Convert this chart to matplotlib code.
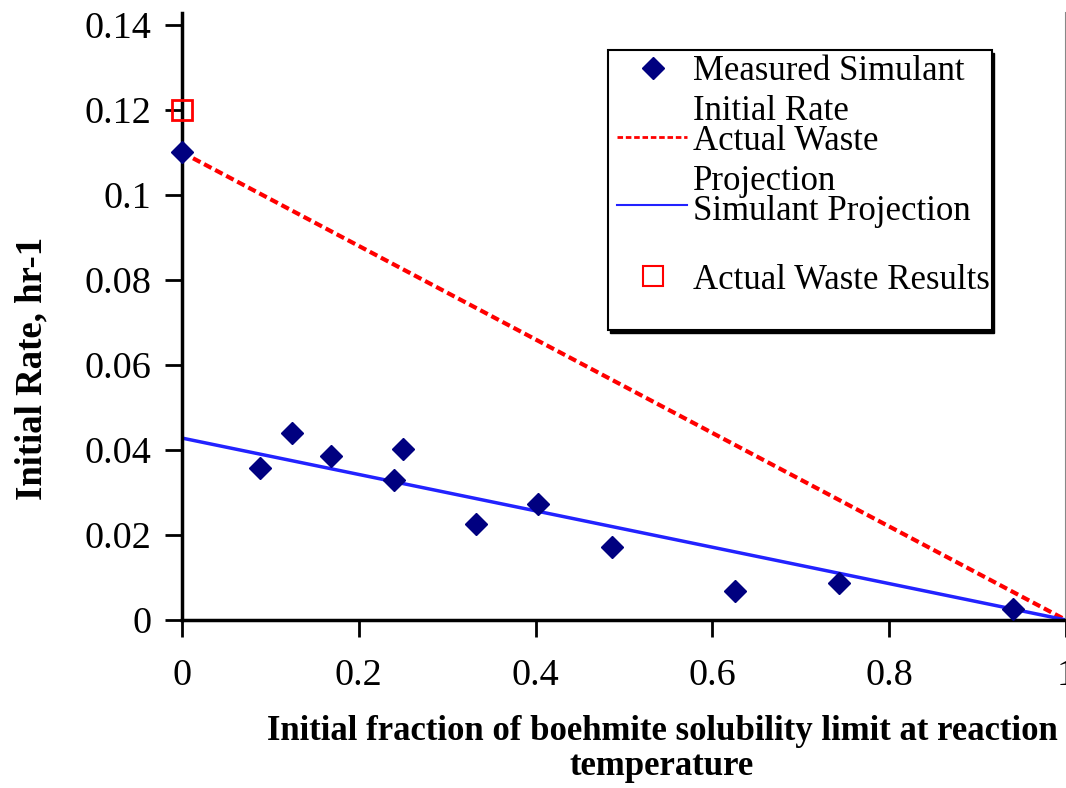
import matplotlib
matplotlib.use("Agg")
import matplotlib.pyplot as plt
from matplotlib.lines import Line2D
from matplotlib.patches import Rectangle

plt.rcParams['font.family'] = ['Liberation Serif', 'DejaVu Serif']

# measured simulant data
sim_x = [0.0, 0.088, 0.124, 0.169, 0.240, 0.250, 0.333, 0.403, 0.486, 0.626, 0.743, 0.940]
sim_y = [0.110, 0.0358, 0.0440, 0.0386, 0.0329, 0.0402, 0.0226, 0.0273, 0.0172, 0.0068, 0.0087, 0.0026]

# actual waste result
waste_x = [0.0]
waste_y = [0.12]

# projections
proj_x = [0.0, 1.0]
waste_proj_y = [0.110, 0.0]
sim_proj_y = [0.0428, 0.0]

xticks = [0, 0.2, 0.4, 0.6, 0.8, 1]
xtick_labels = ['0', '0.2', '0.4', '0.6', '0.8', '1']
yticks = [0, 0.02, 0.04, 0.06, 0.08, 0.1, 0.12, 0.14]
ytick_labels = ['0', '0.02', '0.04', '0.06', '0.08', '0.1', '0.12', '0.14']

W, H = 1066, 788
fig = plt.figure(figsize=(W / 100, H / 100), dpi=100)
ax = fig.add_axes([182 / W, 1 - 620 / H, 1 - 182 / W, (620 - 13) / H])

ax.plot(proj_x, waste_proj_y, color='#ff0000', lw=3, ls=(0, (2, 1)), zorder=2)
ax.plot(proj_x, sim_proj_y, color='#2222ff', lw=2.5, zorder=2)
ax.plot(sim_x, sim_y, 'D', color='#000080', ms=11.5, ls='none', zorder=3, clip_on=False)
ax.plot(waste_x, waste_y, 's', mfc='none', mec='#ff0000', mew=2, ms=14, ls='none',
        zorder=3, clip_on=False)

ax.set_xlim(0, 1)
ax.set_ylim(0, 0.1428)
ax.set_xticks(xticks)
ax.set_xticklabels(xtick_labels)
ax.set_yticks(yticks)
ax.set_yticklabels(ytick_labels)
ax.tick_params(direction='out', length=12, width=2, labelsize=27.5, colors='black')
ax.tick_params(axis='x', pad=16)
ax.tick_params(axis='y', pad=10)

ax.spines['top'].set_visible(False)
for s in ['left', 'bottom']:
    ax.spines[s].set_linewidth(2.5)
ax.spines['right'].set_linewidth(1.5)
ax.spines['right'].set_color('#888888')

ax.set_xlabel('Initial fraction of boehmite solubility limit at reaction\ntemperature',
              fontsize=25, fontweight='bold', linespacing=1.08)
ax.xaxis.set_label_coords(0.543, -0.157)
ax.set_ylabel('Initial Rate, hr-1', fontsize=26.5, fontweight='bold')
ax.yaxis.set_label_coords(-0.15, 0.415)


def fx(px):
    return px / W


def fy(py):
    return 1 - py / H


# legend box drawn by hand to match the wrapped Excel legend
fig.patches.append(Rectangle((fx(610), fy(333)), fx(992) - fx(608), fy(50) - fy(330),
                             transform=fig.transFigure, facecolor='black', edgecolor='black'))
fig.patches.append(Rectangle((fx(608), fy(330)), fx(992) - fx(608), fy(50) - fy(330),
                             transform=fig.transFigure, facecolor='white', edgecolor='black', lw=1.5))

fig.lines.append(Line2D([fx(653)], [fy(68)], marker='D', color='#000080', ms=11, ls='none',
                        transform=fig.transFigure))
fig.lines.append(Line2D([fx(617), fx(687)], [fy(137), fy(137)], color='#ff0000', lw=2,
                        ls=(0, (2, 1)), transform=fig.transFigure))
fig.lines.append(Line2D([fx(617), fx(687)], [fy(205), fy(205)], color='#2222ff', lw=1.5,
                        transform=fig.transFigure))
fig.lines.append(Line2D([fx(653)], [fy(276)], marker='s', mfc='none', mec='#ff0000', mew=1.5,
                        ms=14, ls='none', transform=fig.transFigure))

leg_texts = [('Measured Simulant', 68), ('Initial Rate', 108), ('Actual Waste', 137),
             ('Projection', 178), ('Simulant Projection', 207), ('Actual Waste Results', 276)]
for t, py in leg_texts:
    fig.text(fx(693), fy(py), t, fontsize=25, va='center_baseline', ha='left')

fig.savefig('out.png', dpi=100)
